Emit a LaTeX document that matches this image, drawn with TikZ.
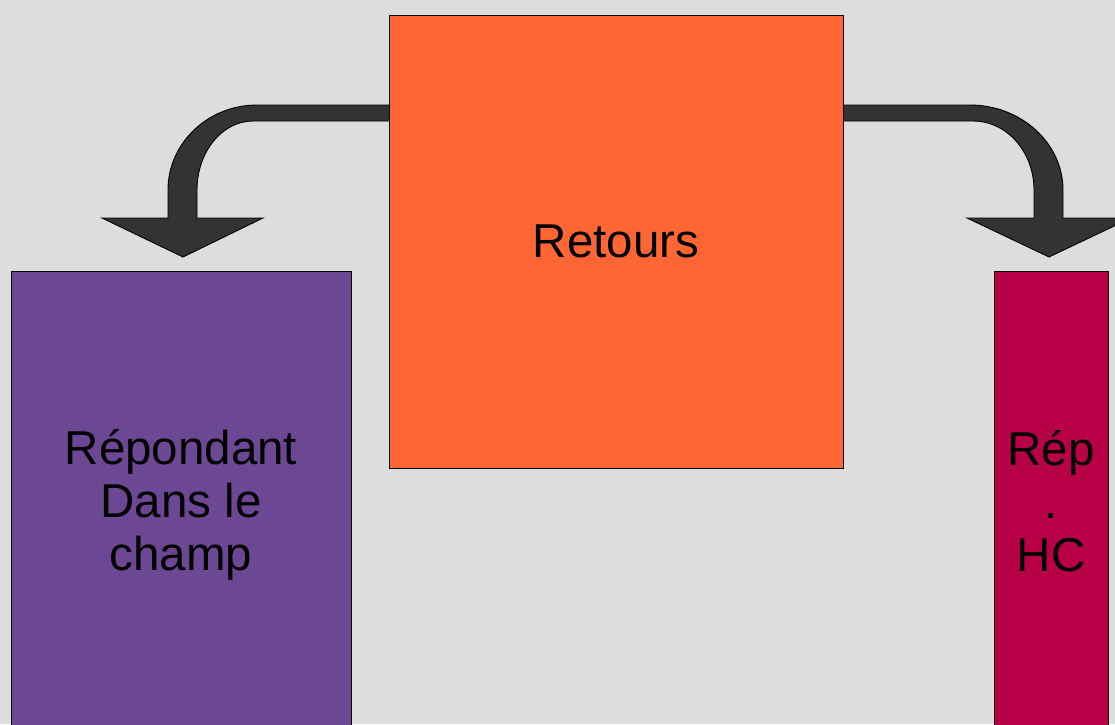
\documentclass[tikz,border=0pt]{standalone}
\usepackage{fontspec}
\setmainfont{Liberation Sans}
\definecolor{bg}{HTML}{DDDDDD}
\definecolor{orangebox}{HTML}{FF6633}
\definecolor{purplebox}{HTML}{6C4793}
\definecolor{crimsonbox}{HTML}{B80047}
\definecolor{arrowfill}{HTML}{333333}
\begin{document}
\begin{tikzpicture}[x=1pt,y=-1pt,
  box/.style={draw=black,line width=0.9pt,rectangle,inner sep=0pt,align=center,
    font=\fontsize{47.5}{53}\selectfont,text=black},
  bandarrow/.style={fill=arrowfill,draw=black,line width=0.9pt,line join=miter}]
\clip (0,0) rectangle (1115,724);
\fill[bg] (0,0) rectangle (1115,724);
% curved band arrows
\draw[bandarrow] (395,105) -- (257,105)
  .. controls (208,105) and (168,143) .. (168,190)
  -- (168,218) -- (102,218) -- (183,257) -- (263,218) -- (197,218) -- (197,190)
  .. controls (197,152) and (222,121) .. (253,121)
  -- (395,121) -- cycle;
\draw[bandarrow] (837,105) -- (970,105)
  .. controls (1021,105) and (1063,143) .. (1063,190)
  -- (1063,218) -- (1131,218) -- (1049,257) -- (967,218) -- (1034,218) -- (1034,190)
  .. controls (1034,152) and (1007,121) .. (973,121)
  -- (837,121) -- cycle;
% boxes
\node[box,fill=orangebox,minimum width=454pt,minimum height=453pt] (ret) at (616,241.5) {Retours};
\node[box,fill=purplebox,minimum width=340pt,minimum height=468pt] (rdc) at (181,505) {Répondant\\Dans le\\champ};
\node[box,fill=crimsonbox,minimum width=114pt,minimum height=460pt] (rhc) at (1051,501) {Rép\\.\\HC};
\end{tikzpicture}
\end{document}
